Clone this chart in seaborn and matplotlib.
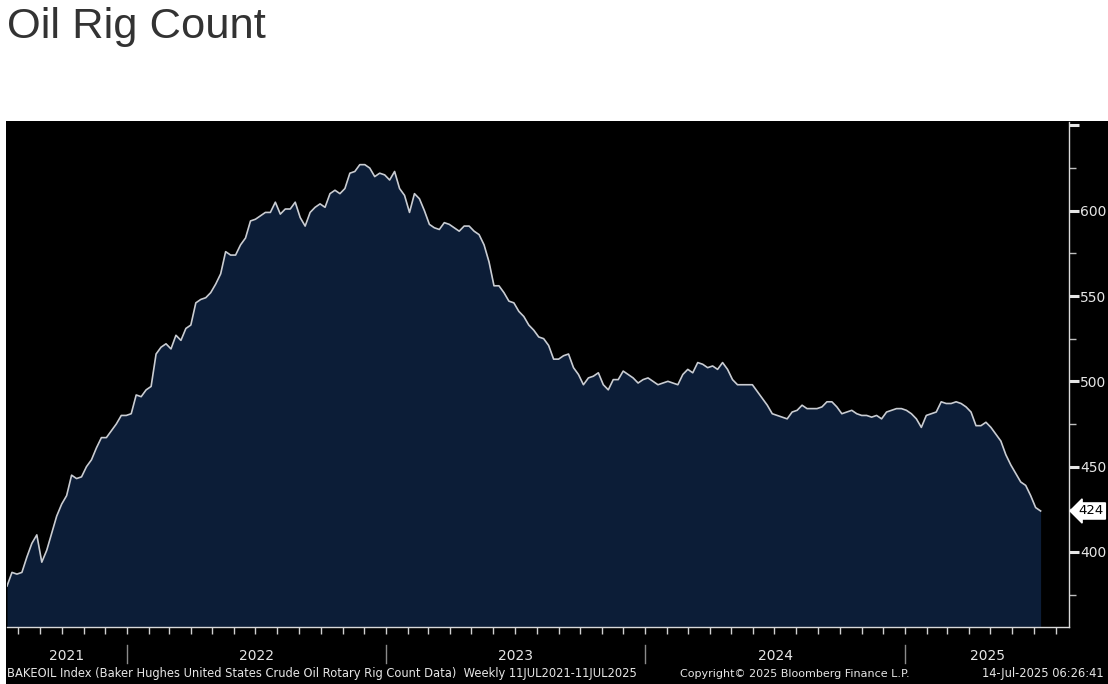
import numpy as np
import pandas as pd
import matplotlib
matplotlib.use("Agg")
import matplotlib.pyplot as plt
import matplotlib.dates as mdates
from matplotlib.transforms import blended_transform_factory
import seaborn as sns

# ---------------- data ----------------
start_date = "2021-07-16"
rig_count = [
    380, 388, 387, 388, 397, 405, 410, 394, 401, 411,
    421, 428, 433, 445, 443, 444, 450, 454, 461, 467,
    467, 471, 475, 480, 480, 481, 492, 491, 495, 497,
    516, 520, 522, 519, 527, 524, 531, 533, 546, 548,
    549, 552, 557, 563, 576, 574, 574, 580, 584, 594,
    595, 597, 599, 599, 605, 598, 601, 601, 605, 596,
    591, 599, 602, 604, 602, 610, 612, 610, 613, 622,
    623, 627, 627, 625, 620, 622, 621, 618, 623, 613,
    609, 599, 610, 607, 600, 592, 590, 589, 593, 592,
    590, 588, 591, 591, 588, 586, 580, 570, 556, 556,
    552, 547, 546, 541, 538, 533, 530, 526, 525, 521,
    513, 513, 515, 516, 508, 504, 498, 502, 503, 505,
    498, 495, 501, 501, 506, 504, 502, 499, 501, 502,
    500, 498, 499, 500, 499, 498, 504, 507, 505, 511,
    510, 508, 509, 507, 511, 507, 501, 498, 498, 498,
    498, 494, 490, 486, 481, 480, 479, 478, 482, 483,
    486, 484, 484, 484, 485, 488, 488, 485, 481, 482,
    483, 481, 480, 480, 479, 480, 478, 482, 483, 484,
    484, 483, 481, 478, 473, 480, 481, 482, 488, 487,
    487, 488, 487, 485, 482, 474, 474, 476, 473, 469,
    465, 457, 451, 446, 441, 439, 433, 426, 424,
]
dates = pd.date_range(start_date, periods=len(rig_count), freq="7D")
years = [2021, 2022, 2023, 2024, 2025]
y_major = [400, 450, 500, 550, 600, 650]
y_major_labels = ["400", "450", "500", "550", "600", ""]
y_minor = [375, 425, 475, 525, 575, 625]
title = "Oil Rig Count"
footer_left = "BAKEOIL Index (Baker Hughes United States Crude Oil Rotary Rig Count Data)  Weekly 11JUL2021-11JUL2025"
footer_mid = "Copyright\u00a9 2025 Bloomberg Finance L.P."
footer_right = "14-Jul-2025 06:26:41"

# ---------------- styling ----------------
W, H = 1108, 684
BG_PANEL = "#000000"
FILL = "#0c1d37"
LINE = "#c9ccd2"
TXT = "#e6e6e6"
ylo, yhi = 356, 652

fig = plt.figure(figsize=(W / 100, H / 100), dpi=100)
fig.patch.set_facecolor("white")

# black panel behind chart + footer
bg = fig.add_axes([6 / W, 0, 1 - 6 / W, (H - 121) / H], zorder=-5)
bg.set_facecolor(BG_PANEL)
bg.set_xticks([])
bg.set_yticks([])
for s in bg.spines.values():
    s.set_visible(False)

ax = fig.add_axes([7 / W, (H - 627) / H, (1069 - 7) / W, (627 - 122) / H], zorder=1)
ax.set_facecolor(BG_PANEL)

ax.fill_between(dates, rig_count, ylo, color=FILL, linewidth=0, zorder=1)
sns.lineplot(x=dates, y=rig_count, ax=ax, color=LINE, linewidth=1.2, zorder=2, legend=False)

x_end = dates[0] + pd.Timedelta(days=1496)
ax.set_xlim(dates[0], x_end)
ax.set_ylim(ylo, yhi)
ax.set_xlabel("")
ax.set_ylabel("")

for s in ["top", "left"]:
    ax.spines[s].set_visible(False)
for s in ["bottom", "right"]:
    ax.spines[s].set_color("#d9d9d9")
    ax.spines[s].set_linewidth(1.0)

# y-axis on the right
ax.yaxis.tick_right()
ax.set_yticks(y_major)
ax.set_yticklabels(y_major_labels)
ax.set_yticks(y_minor, minor=True)
ax.tick_params(axis="y", which="major", direction="out", length=7, width=2.2,
               colors=TXT, labelsize=10, pad=1)
ax.tick_params(axis="y", which="minor", direction="out", length=5, width=1,
               colors="#bfbfbf")

# x-axis: monthly ticks, no labels
ax.xaxis.set_major_locator(mdates.MonthLocator())
ax.xaxis.set_major_formatter(plt.NullFormatter())
ax.tick_params(axis="x", which="major", direction="out", length=5, width=1,
               colors="#d0d0d0")

trans = blended_transform_factory(ax.transData, ax.transAxes)
xmin_num, xmax_num = ax.get_xlim()
for yr in years:
    a = max(mdates.date2num(pd.Timestamp(f"{yr}-01-01")), xmin_num)
    b = min(mdates.date2num(pd.Timestamp(f"{yr + 1}-01-01")), xmax_num)
    ax.text((a + b) / 2, -0.058, str(yr), transform=trans, ha="center", va="center",
            color=TXT, fontsize=10)
    if yr > years[0]:
        xb = mdates.date2num(pd.Timestamp(f"{yr}-01-01"))
        ax.plot([xb, xb], [-0.036, -0.072], transform=trans, color="#8a8a8a",
                linewidth=1, clip_on=False)

# last value label
ytrans = blended_transform_factory(ax.transAxes, ax.transData)
ax.text(1.009, rig_count[-1], str(rig_count[-1]), transform=ytrans, ha="left",
        va="center", fontsize=9.5, color="black",
        bbox=dict(boxstyle="larrow,pad=0.12", fc="white", ec="white"))

# title & footer
fig.text(7 / W, (H - 38) / H, title, ha="left", va="baseline", fontsize=31.3,
         color="#333333", family="Liberation Sans")
fy = (H - 674) / H
fig.text(7 / W, fy, footer_left, ha="left", va="center", fontsize=8.3, color=TXT)
fig.text(795 / W, fy, footer_mid, ha="center", va="center", fontsize=8.0, color=TXT)
fig.text(1104 / W, fy, footer_right, ha="right", va="center", fontsize=8.3, color=TXT)

fig.savefig("out.png", dpi=100, facecolor=fig.get_facecolor())
